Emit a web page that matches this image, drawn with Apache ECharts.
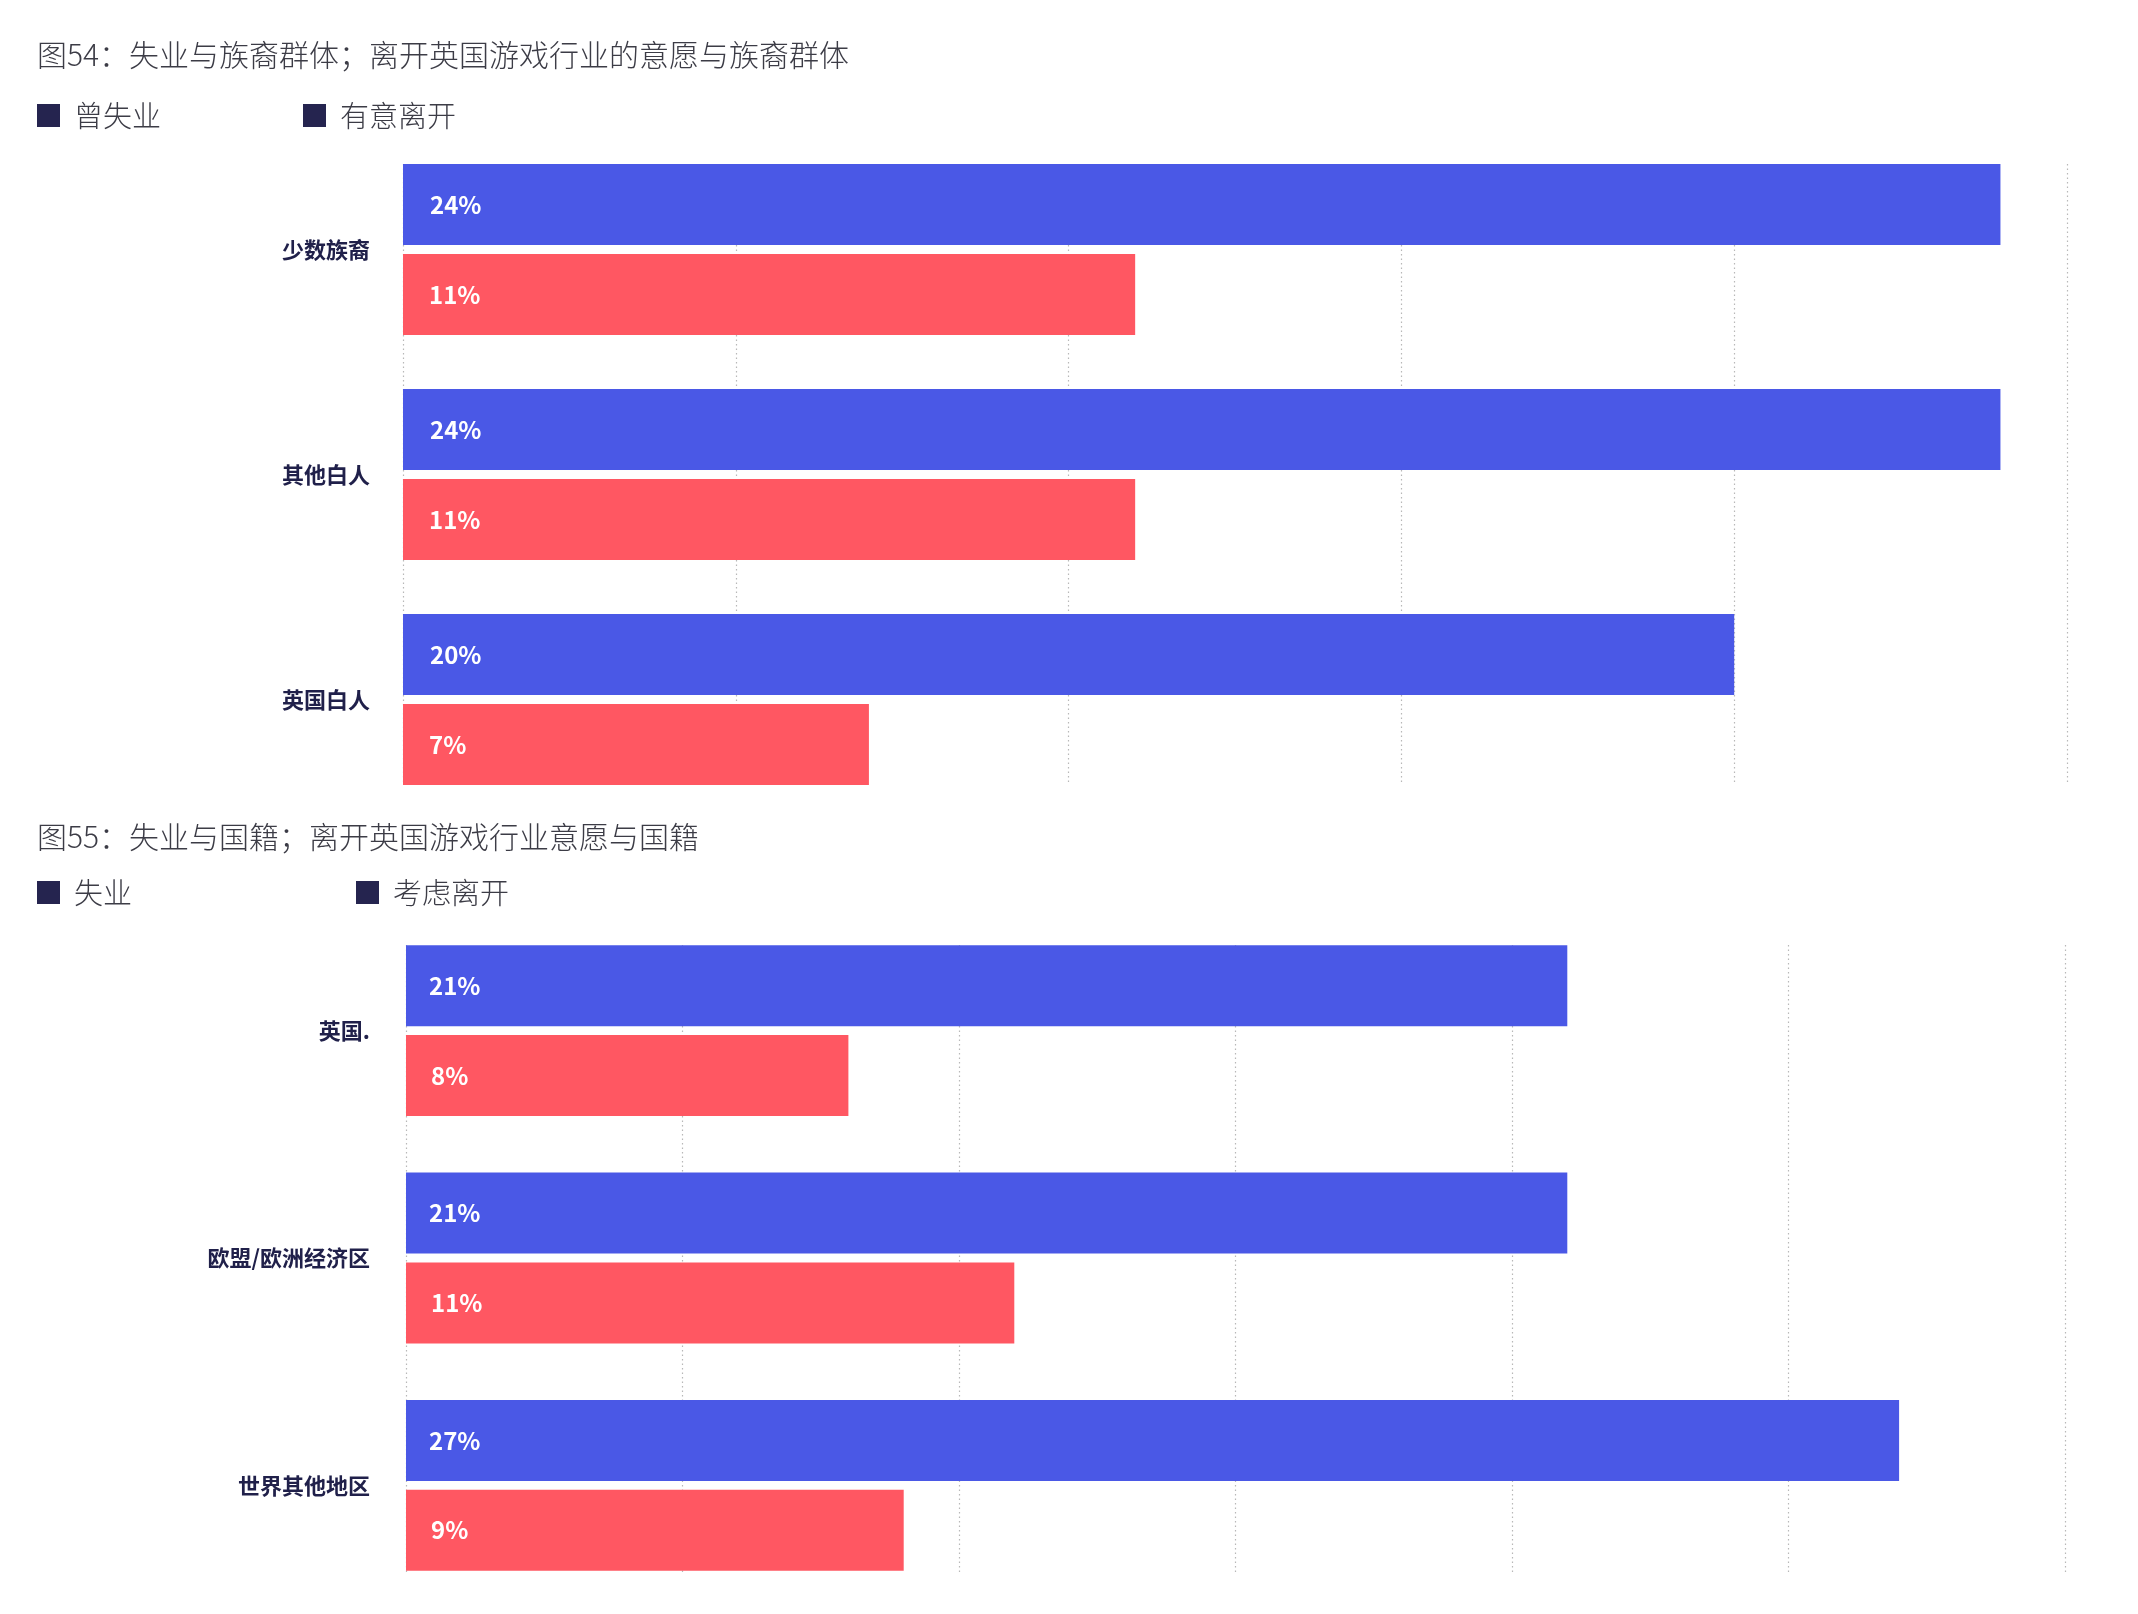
<!DOCTYPE html>
<html>
<head>
<meta charset="utf-8">
<script src="https://cdn.jsdelivr.net/npm/echarts@6/dist/echarts.min.js"></script>
<style>
	html, body { margin: 0; padding: 0; background: #fff; }
	#chart { width: 2138px; height: 1614px; }
</style>
</head>
<body>
<div id="chart"></div>
<script>
	// 图54 族裔
	const ethnicCats = ['少数族裔', '其他白人', '英国白人'];
	const ethnicJobless = [24, 24, 20];
	const ethnicLeave = [11, 11, 7];
	// 图55 国籍
	const nationCats = ['英国.', '欧盟/欧洲经济区', '世界其他地区'];
	const nationJobless = [21, 21, 27];
	const nationLeave = [8, 11, 9];

	const BLUE = '#4a58e6';
	const RED = '#ff5762';
	const NAVY = '#25244f';
	const FONT = 'Noto Sans CJK SC';

	function valueLabel(dist) {
		return {
			show: true,
			position: 'insideLeft',
			distance: dist,
			formatter: '{c}%',
			color: '#fff',
			fontSize: 24,
			fontWeight: 'bold',
			fontFamily: FONT
		};
	}

	// 只画虚线网格的坐标轴
	function gridAxis(idx, max) {
		return {
			type: 'value', gridIndex: idx, min: 0, max: max, interval: 5,
			axisLine: { show: false }, axisTick: { show: false }, axisLabel: { show: false },
			splitLine: { show: true, lineStyle: { color: '#b8b8b8', width: 1.2, type: [1.5, 3] } }
		};
	}

	function catAxis(idx, cats, margin) {
		return {
			type: 'category', gridIndex: idx, data: cats, inverse: true,
			axisLine: { show: false }, axisTick: { show: false },
			axisLabel: { margin: margin, color: '#20204a', fontSize: 22, fontWeight: 'bold', fontFamily: FONT }
		};
	}

	function legendItem(name, left, top) {
		return {
			left: left, top: top, padding: 0,
			icon: 'rect', itemWidth: 23, itemHeight: 23,
			data: [{ name: name, itemStyle: { color: NAVY } }],
			textStyle: { fontSize: 29, color: '#3c3c46', fontFamily: FONT, fontWeight: 300, padding: [0, 0, 0, 9] }
		};
	}

	function barSeries(name, data, color, axisIdx, dist) {
		return {
			name: name, type: 'bar', xAxisIndex: axisIdx, yAxisIndex: axisIdx,
			data: data, barWidth: 81, barGap: '11%',
			itemStyle: { color: color },
			label: valueLabel(dist)
		};
	}

	const chart = echarts.init(document.getElementById('chart'));
	chart.setOption({
		animation: false,
		backgroundColor: '#fff',
		title: [
			{ text: '图54：失业与族裔群体；离开英国游戏行业的意愿与族裔群体', left: 37, top: 40, padding: 0,
				textStyle: { fontSize: 30, fontWeight: 300, color: '#3c3c46', fontFamily: FONT } },
			{ text: '图55：失业与国籍；离开英国游戏行业意愿与国籍', left: 37, top: 822, padding: 0,
				textStyle: { fontSize: 30, fontWeight: 300, color: '#3c3c46', fontFamily: FONT } }
		],
		legend: [
			legendItem('曾失业', 37, 101),
			legendItem('有意离开', 303, 101),
			legendItem('失业', 37, 878),
			legendItem('考虑离开', 356, 878)
		],
		grid: [
			{ left: 403, right: 71, top: 137, height: 675 },
			{ left: 403, right: 71, top: 164, height: 620 },
			{ left: 406, right: 73, top: 917, height: 682 },
			{ left: 406, right: 73, top: 945, height: 627 }
		],
		xAxis: [
			{ type: 'value', gridIndex: 0, min: 0, max: 25, show: false },
			gridAxis(1, 25),
			{ type: 'value', gridIndex: 2, min: 0, max: 30, show: false },
			gridAxis(3, 30)
		],
		yAxis: [
			catAxis(0, ethnicCats, 33),
			{ type: 'value', gridIndex: 1, min: 0, max: 1, show: false },
			catAxis(2, nationCats, 36),
			{ type: 'value', gridIndex: 3, min: 0, max: 1, show: false }
		],
		series: [
			barSeries('曾失业', ethnicJobless, BLUE, 0, 27),
			barSeries('有意离开', ethnicLeave, RED, 0, 26),
			barSeries('失业', nationJobless, BLUE, 2, 23),
			barSeries('考虑离开', nationLeave, RED, 2, 25)
		]
	});
</script>
</body>
</html>
